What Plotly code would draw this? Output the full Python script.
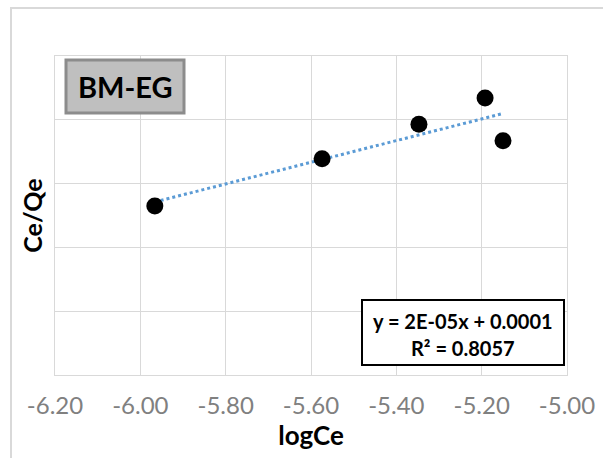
import numpy as np
import plotly.graph_objects as go

# Data
log_ce = [-5.966, -5.574, -5.347, -5.192, -5.150]
ce_qe = [2.65e-5, 3.39e-5, 3.93e-5, 4.34e-5, 3.67e-5]
x_ticks = [-6.20, -6.00, -5.80, -5.60, -5.40, -5.20, -5.00]
x_tick_labels = ["-6.20", "-6.00", "-5.80", "-5.60", "-5.40", "-5.20", "-5.00"]
sample_label = "BM-EG"
eq_line1 = "y = 2E-05x + 0.0001"
eq_line2 = "R² = 0.8057"

# Linear trendline over data range
slope, intercept = np.polyfit(log_ce, ce_qe, 1)
tx = [min(log_ce), max(log_ce)]
ty = [slope * v + intercept for v in tx]

FONT = "Lato"

fig = go.Figure()
fig.add_trace(go.Scatter(x=tx, y=ty, mode="lines",
                         line=dict(color="#5b9bd5", width=3, dash="dot"),
                         showlegend=False, hoverinfo="skip"))
fig.add_trace(go.Scatter(x=log_ce, y=ce_qe, mode="markers",
                         marker=dict(color="black", size=17),
                         showlegend=False))

fig.update_layout(
    width=603, height=458,
    margin=dict(l=55, r=36, t=56, b=83, autoexpand=False),
    paper_bgcolor="white", plot_bgcolor="white",
    font=dict(family=FONT),
    xaxis=dict(range=[-6.2, -5.0], tickvals=x_ticks, ticktext=x_tick_labels,
               showgrid=True, gridcolor="#d9d9d9", gridwidth=1,
               showline=True, linecolor="#d9d9d9", linewidth=1, mirror=True,
               zeroline=False, ticks="", automargin=False,
               tickfont=dict(family=FONT, size=24, color="#808080"),
               ticklabelstandoff=9,
               title=dict(text="<b>logCe</b>", font=dict(family=FONT, size=26, color="black"),
                          standoff=5)),
    yaxis=dict(range=[0, 5e-5], dtick=1e-5, tick0=0,
               showgrid=True, gridcolor="#d9d9d9", gridwidth=1,
               showline=True, linecolor="#d9d9d9", linewidth=1, mirror=True,
               zeroline=False, showticklabels=False, ticks="", automargin=False,
               title=dict(text="<b>Ce/Qe</b>", font=dict(family=FONT, size=25, color="black"),
                          standoff=4)),
)

def px(x):
    return (x - 55) / 512.0

def py(y):
    return (375 - y) / 319.0

shapes = [
    # outer chart-area border
    dict(type="rect", xref="paper", yref="paper", x0=px(11), x1=px(620), y0=py(480), y1=py(8),
         line=dict(color="#d9d9d9", width=2), fillcolor="rgba(0,0,0,0)", layer="below"),
    # sample label box
    dict(type="rect", xref="paper", yref="paper", x0=px(66), x1=px(184), y0=py(113), y1=py(60),
         line=dict(color="#8c8c8c", width=3), fillcolor="#bfbfbf", layer="above"),
    # equation box
    dict(type="rect", xref="paper", yref="paper", x0=px(362), x1=px(564), y0=py(365), y1=py(300),
         line=dict(color="black", width=2), fillcolor="white", layer="above"),
]
fig.update_layout(shapes=shapes)

fig.add_annotation(xref="paper", yref="paper", x=px(125), y=py(87), text="<b>" + sample_label + "</b>",
                   showarrow=False, xanchor="center", yanchor="middle",
                   font=dict(family=FONT, size=29, color="black"))
fig.add_annotation(xref="paper", yref="paper", x=px(463), y=py(321), text="<b>" + eq_line1 + "</b>",
                   showarrow=False, xanchor="center", yanchor="middle",
                   font=dict(family=FONT, size=20, color="black"))
fig.add_annotation(xref="paper", yref="paper", x=px(463), y=py(348), text="<b>" + eq_line2 + "</b>",
                   showarrow=False, xanchor="center", yanchor="middle",
                   font=dict(family=FONT, size=20, color="black"))

fig.write_html("out.html", config={"displayModeBar": False},
               post_script="document.body.style.margin='0';document.body.style.padding='0';")
